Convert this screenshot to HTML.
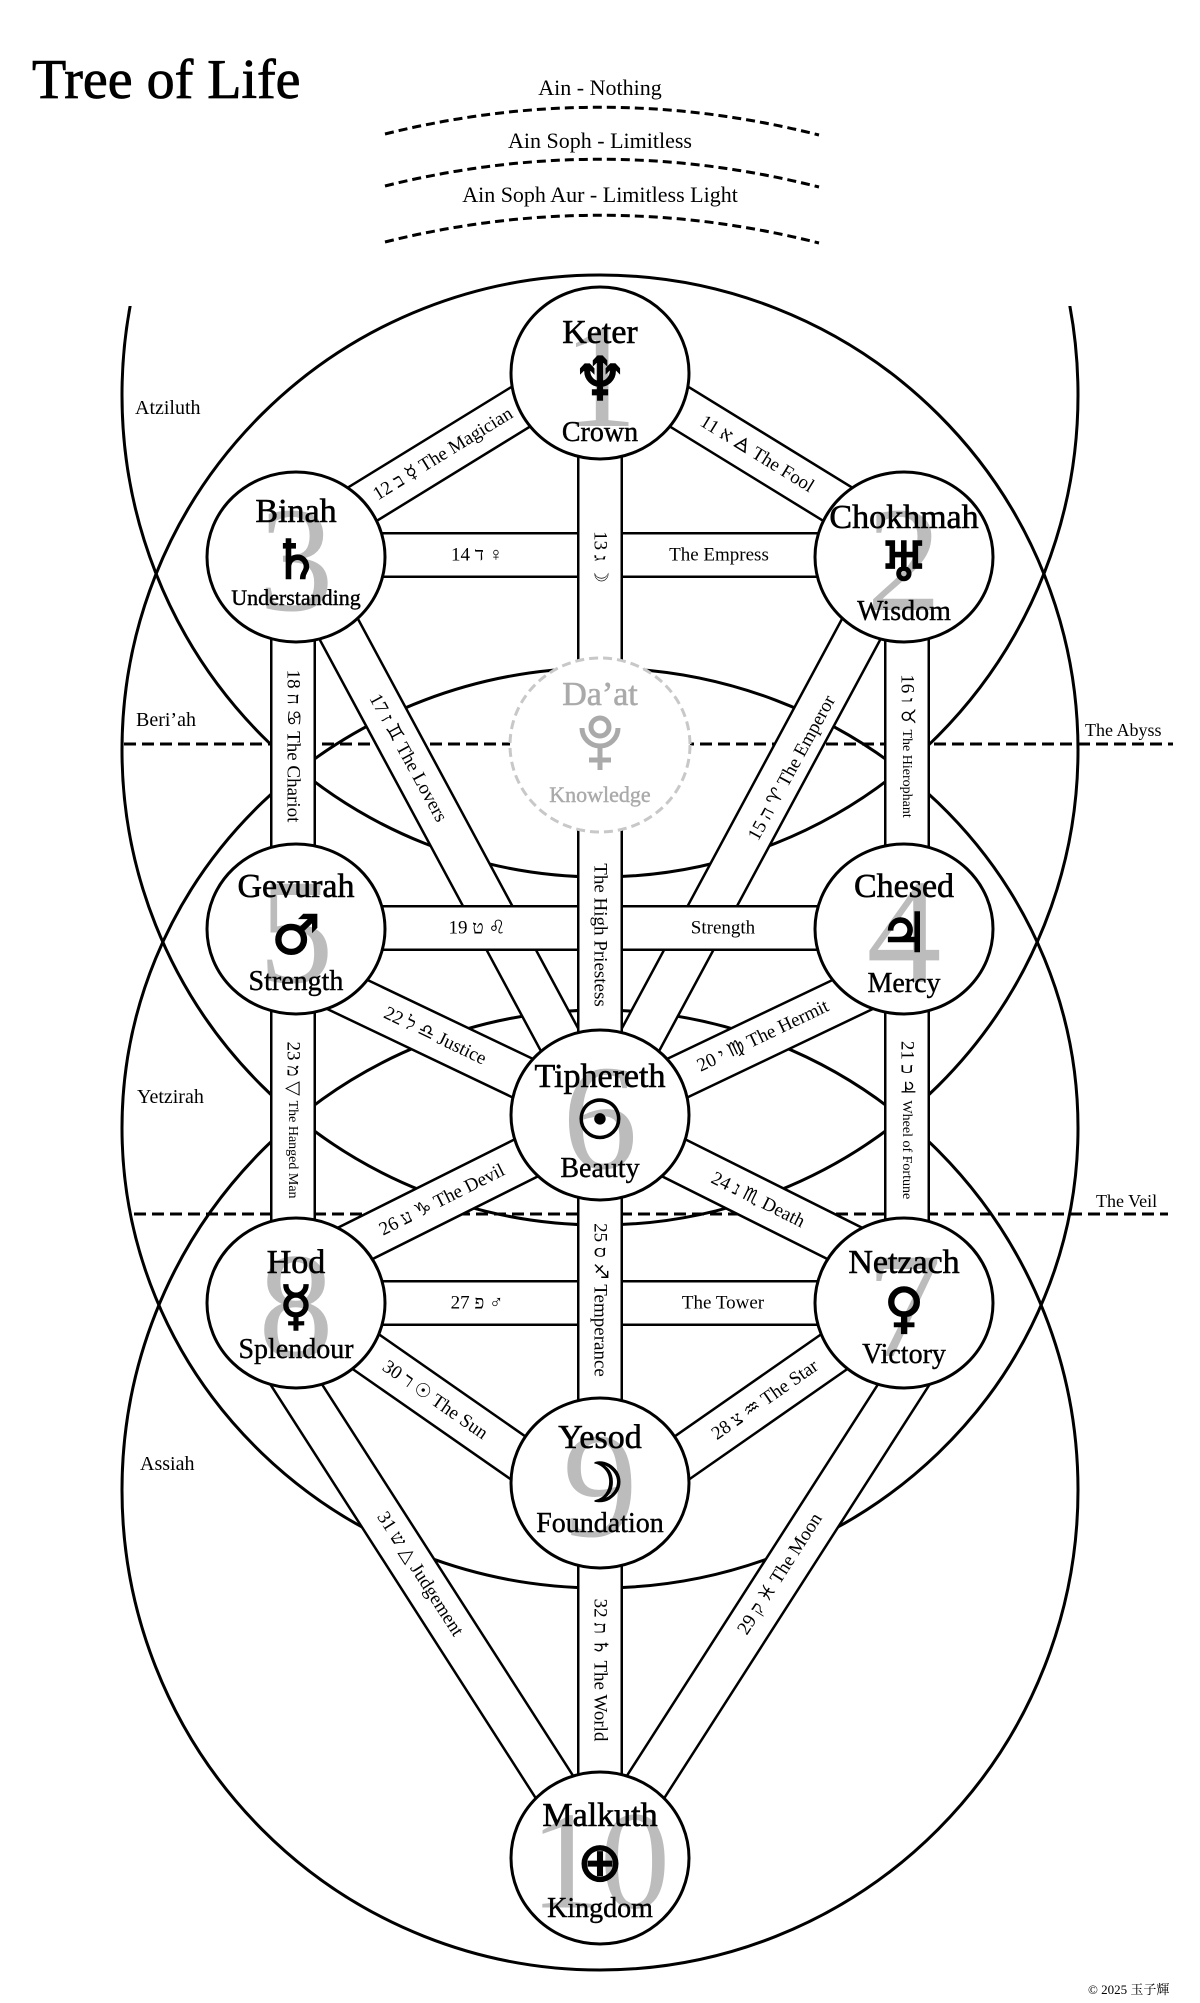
<!DOCTYPE html>
<html><head><meta charset="utf-8"><style>
html,body{margin:0;padding:0;background:#fff;}
svg{display:block;}
text{font-family:"Liberation Serif","DejaVu Sans","Noto Serif CJK SC",serif;}
.pl{font-size:19px;fill:#000;text-anchor:middle;dominant-baseline:central;}
.sm{font-size:14px;}
.nm{font-size:34px;text-anchor:middle;fill:#000;stroke:#000;stroke-width:0.6px;}
.sub{font-size:28px;text-anchor:middle;fill:#000;stroke:#000;stroke-width:0.4px;}
.sym{font-family:"DejaVu Sans",sans-serif;font-size:54px;text-anchor:middle;dominant-baseline:central;fill:#000;stroke:#000;stroke-width:1.6px;}
.num{font-size:150px;text-anchor:middle;dominant-baseline:central;fill:#bcbcbc;}
.w{font-size:20px;fill:#000;}
</style></head><body>
<svg width="1200" height="2003" viewBox="0 0 1200 2003" xmlns="http://www.w3.org/2000/svg">
<rect width="1200" height="2003" fill="#fff"/>
<text x="32" y="98" style="font-size:56px;stroke:#000;stroke-width:0.8px;">Tree of Life</text>
<text x="600" y="95" text-anchor="middle" style="font-size:22px;">Ain - Nothing</text>
<text x="600" y="148" text-anchor="middle" style="font-size:22px;">Ain Soph - Limitless</text>
<text x="600" y="202" text-anchor="middle" style="font-size:22px;">Ain Soph Aur - Limitless Light</text>
<g fill="none" stroke="#000" stroke-width="3" stroke-dasharray="9,5">
<path d="M385,134 Q602,80 819,135"/>
<path d="M385,186 Q602,132 819,187"/>
<path d="M385,242 Q602,188 819,243"/>
</g>
<defs><clipPath id="topc"><rect x="0" y="306" width="1200" height="1700"/></clipPath></defs>
<g fill="none" stroke="#000" stroke-width="3">
<ellipse cx="600" cy="395" rx="478" ry="482" clip-path="url(#topc)"/>
<ellipse cx="600" cy="750" rx="478" ry="475"/>
<ellipse cx="600" cy="1128" rx="478" ry="460"/>
<ellipse cx="600" cy="1490" rx="478" ry="480"/>
</g>
<g stroke="#000" stroke-width="3" stroke-dasharray="12,6">
<line x1="124" y1="744" x2="1173" y2="744"/>
<line x1="134" y1="1214" x2="1168" y2="1214"/>
</g>
<text class="w" x="135" y="414">Atziluth</text>
<text class="w" x="136" y="726">Beri’ah</text>
<text class="w" x="137" y="1103">Yetzirah</text>
<text class="w" x="140" y="1470">Assiah</text>
<text x="1085" y="736" style="font-size:18px;">The Abyss</text>
<text x="1096" y="1207" style="font-size:18px;">The Veil</text>
<text x="1088" y="1994" style="font-size:13px;">©  2025  玉子輝</text>

<g stroke-linecap="butt">
<g><line x1="296" y1="545" x2="600" y2="358" stroke="#000" stroke-width="46"/><line x1="296" y1="545" x2="600" y2="358" stroke="#fff" stroke-width="41"/></g>
<g><line x1="904" y1="545" x2="600" y2="358" stroke="#000" stroke-width="46"/><line x1="904" y1="545" x2="600" y2="358" stroke="#fff" stroke-width="41"/></g>
<g><line x1="300" y1="557" x2="600" y2="1115" stroke="#000" stroke-width="46"/><line x1="300" y1="557" x2="600" y2="1115" stroke="#fff" stroke-width="41"/></g>
<g><line x1="900" y1="557" x2="600" y2="1115" stroke="#000" stroke-width="46"/><line x1="900" y1="557" x2="600" y2="1115" stroke="#fff" stroke-width="41"/></g>
<g><line x1="296" y1="970" x2="600" y2="1115" stroke="#000" stroke-width="46"/><line x1="296" y1="970" x2="600" y2="1115" stroke="#fff" stroke-width="41"/></g>
<g><line x1="904" y1="970" x2="600" y2="1115" stroke="#000" stroke-width="46"/><line x1="904" y1="970" x2="600" y2="1115" stroke="#fff" stroke-width="41"/></g>
<g><line x1="296" y1="1273" x2="600" y2="1121" stroke="#000" stroke-width="46"/><line x1="296" y1="1273" x2="600" y2="1121" stroke="#fff" stroke-width="41"/></g>
<g><line x1="904" y1="1273" x2="600" y2="1121" stroke="#000" stroke-width="46"/><line x1="904" y1="1273" x2="600" y2="1121" stroke="#fff" stroke-width="41"/></g>
<g><line x1="296" y1="1303" x2="600" y2="1515" stroke="#000" stroke-width="46"/><line x1="296" y1="1303" x2="600" y2="1515" stroke="#fff" stroke-width="41"/></g>
<g><line x1="904" y1="1303" x2="600" y2="1515" stroke="#000" stroke-width="46"/><line x1="904" y1="1303" x2="600" y2="1515" stroke="#fff" stroke-width="41"/></g>
<g><line x1="244" y1="1303" x2="600" y2="1858" stroke="#000" stroke-width="46"/><line x1="244" y1="1303" x2="600" y2="1858" stroke="#fff" stroke-width="41"/></g>
<g><line x1="956" y1="1303" x2="600" y2="1858" stroke="#000" stroke-width="46"/><line x1="956" y1="1303" x2="600" y2="1858" stroke="#fff" stroke-width="41"/></g>
<g><line x1="296" y1="555" x2="904" y2="555" stroke="#000" stroke-width="46"/><line x1="296" y1="555" x2="904" y2="555" stroke="#fff" stroke-width="41"/></g>
<g><line x1="296" y1="928" x2="904" y2="928" stroke="#000" stroke-width="46"/><line x1="296" y1="928" x2="904" y2="928" stroke="#fff" stroke-width="41"/></g>
<g><line x1="296" y1="1303" x2="904" y2="1303" stroke="#000" stroke-width="46"/><line x1="296" y1="1303" x2="904" y2="1303" stroke="#fff" stroke-width="41"/></g>
<g><line x1="293" y1="557" x2="293" y2="1303" stroke="#000" stroke-width="46"/><line x1="293" y1="557" x2="293" y2="1303" stroke="#fff" stroke-width="41"/></g>
<g><line x1="907" y1="557" x2="907" y2="1303" stroke="#000" stroke-width="46"/><line x1="907" y1="557" x2="907" y2="1303" stroke="#fff" stroke-width="41"/></g>
<g><line x1="600" y1="373" x2="600" y2="1858" stroke="#000" stroke-width="46"/><line x1="600" y1="373" x2="600" y2="1858" stroke="#fff" stroke-width="41"/></g>
</g>

<text class="pl" transform="translate(443,454) rotate(-31.6)">12 ב ☿︎ The Magician</text>
<text class="pl" transform="translate(757,454) rotate(31.6)">11 א 🜁 The Fool</text>
<text class="pl" transform="translate(600,557) rotate(90)">13 ג ☽︎</text>
<text class="pl" x="477" y="555">14 ד ♀︎</text>
<text class="pl" x="719" y="555">The Empress</text>
<text class="pl" transform="translate(408,758) rotate(61.4)">17 ז ♊︎ The Lovers</text>
<text class="pl" transform="translate(792,768) rotate(-61.4)">15 ה ♈︎ The Emperor</text>
<text class="pl" transform="translate(293,746) rotate(90)">18 ח ♋︎ The Chariot</text>
<text class="pl" transform="translate(907,746) rotate(90)">16 ו ♉︎ <tspan class="sm">The Hierophant</tspan></text>
<text class="pl" transform="translate(600,935) rotate(90)">The High Priestess</text>
<text class="pl" x="477" y="928">19 ט ♌︎</text>
<text class="pl" x="723" y="928">Strength</text>
<text class="pl" transform="translate(435,1036) rotate(25.5)">22 ל ♎︎ Justice</text>
<text class="pl" transform="translate(763,1036) rotate(-25.5)">20 י ♍︎ The Hermit</text>
<text class="pl" transform="translate(293,1120) rotate(90)">23 מ ▽ <tspan class="sm">The Hanged Man</tspan></text>
<text class="pl" transform="translate(907,1120) rotate(90)">21 כ ♃︎ <tspan class="sm">Wheel of Fortune</tspan></text>
<text class="pl" transform="translate(442,1200) rotate(-26.6)">26 ע ♑︎ The Devil</text>
<text class="pl" transform="translate(758,1200) rotate(26.6)">24 נ ♏︎ Death</text>
<text class="pl" transform="translate(600,1300) rotate(90)">25 ס ♐︎ Temperance</text>
<text class="pl" x="477" y="1303">27 פ ♂︎</text>
<text class="pl" x="723" y="1303">The Tower</text>
<text class="pl" transform="translate(435,1400) rotate(34.9)">30 ר ☉︎ The Sun</text>
<text class="pl" transform="translate(765,1400) rotate(-34.9)">28 צ ♒︎ The Star</text>
<text class="pl" transform="translate(420,1574) rotate(57.3)">31 ש △ Judgement</text>
<text class="pl" transform="translate(780,1574) rotate(-57.3)">29 ק ♓︎ The Moon</text>
<text class="pl" transform="translate(600,1670) rotate(90)">32 ת ♄︎ The World</text>

<g stroke="#000" stroke-width="3" fill="#fff">
<ellipse cx="600" cy="373" rx="89" ry="86"/>
<ellipse cx="296" cy="557" rx="89" ry="85"/>
<ellipse cx="904" cy="557" rx="89" ry="85"/>
<ellipse cx="296" cy="929" rx="89" ry="85"/>
<ellipse cx="904" cy="929" rx="89" ry="85"/>
<ellipse cx="600" cy="1115" rx="89" ry="85"/>
<ellipse cx="296" cy="1303" rx="89" ry="85"/>
<ellipse cx="904" cy="1303" rx="89" ry="85"/>
<ellipse cx="600" cy="1483" rx="89" ry="85"/>
<ellipse cx="600" cy="1858" rx="89" ry="86"/>
</g>
<ellipse cx="600" cy="745" rx="90" ry="87" fill="#fff" stroke="#c8c8c8" stroke-width="3" stroke-dasharray="9,5"/>

<text class="num" x="600" y="376">1</text>
<text class="num" x="296" y="560">3</text>
<text class="num" x="904" y="560">2</text>
<text class="num" x="296" y="932">5</text>
<text class="num" x="904" y="932">4</text>
<text class="num" x="600" y="1118">6</text>
<text class="num" x="296" y="1306">8</text>
<text class="num" x="904" y="1306">7</text>
<text class="num" x="600" y="1486">9</text>
<text class="num" x="600" y="1861" style="font-size:140px;">10</text>

<text class="nm" x="600" y="343">Keter</text><text class="sym" x="600" y="380" style="font-size:60px;">♆︎</text><text class="sub" x="600" y="441">Crown</text>
<text class="nm" x="296" y="522">Binah</text><text class="sym" x="296" y="560">♄︎</text><text class="sub" x="296" y="605" style="font-size:22px;">Understanding</text>
<text class="nm" x="904" y="528">Chokhmah</text><text class="sym" x="904" y="562">♅︎</text><text class="sub" x="904" y="620">Wisdom</text>
<text class="nm" x="600" y="705" style="fill:#aaa;stroke:#aaa;">Da’at</text>
<g fill="none" stroke="#aaa" stroke-width="5">
<circle cx="600" cy="727" r="9"/>
<path d="M582,728 A18,18 0 0 0 618,728"/>
<line x1="600" y1="746" x2="600" y2="770"/>
<line x1="589" y1="760" x2="611" y2="760"/>
</g>
<text class="sub" x="600" y="802" style="font-size:22px;fill:#aaa;stroke:#aaa;">Knowledge</text>
<text class="nm" x="296" y="897">Gevurah</text><text class="sym" x="296" y="935">♂︎</text><text class="sub" x="296" y="990">Strength</text>
<text class="nm" x="904" y="897">Chesed</text><text class="sym" x="904" y="933">♃︎</text><text class="sub" x="904" y="992">Mercy</text>
<text class="nm" x="600" y="1087">Tiphereth</text><text class="sym" x="600" y="1120">☉︎</text><text class="sub" x="600" y="1177">Beauty</text>
<text class="nm" x="296" y="1273">Hod</text><text class="sym" x="296" y="1306">☿︎</text><text class="sub" x="296" y="1358">Splendour</text>
<text class="nm" x="904" y="1273">Netzach</text><text class="sym" x="904" y="1308">♀︎</text><text class="sub" x="904" y="1363">Victory</text>
<text class="nm" x="600" y="1448">Yesod</text><text class="sym" x="600" y="1483">☽︎</text><text class="sub" x="600" y="1532">Foundation</text>
<text class="nm" x="600" y="1826">Malkuth</text><text class="sym" x="600" y="1862">⊕</text><text class="sub" x="600" y="1917">Kingdom</text>
</svg>
</body></html>
